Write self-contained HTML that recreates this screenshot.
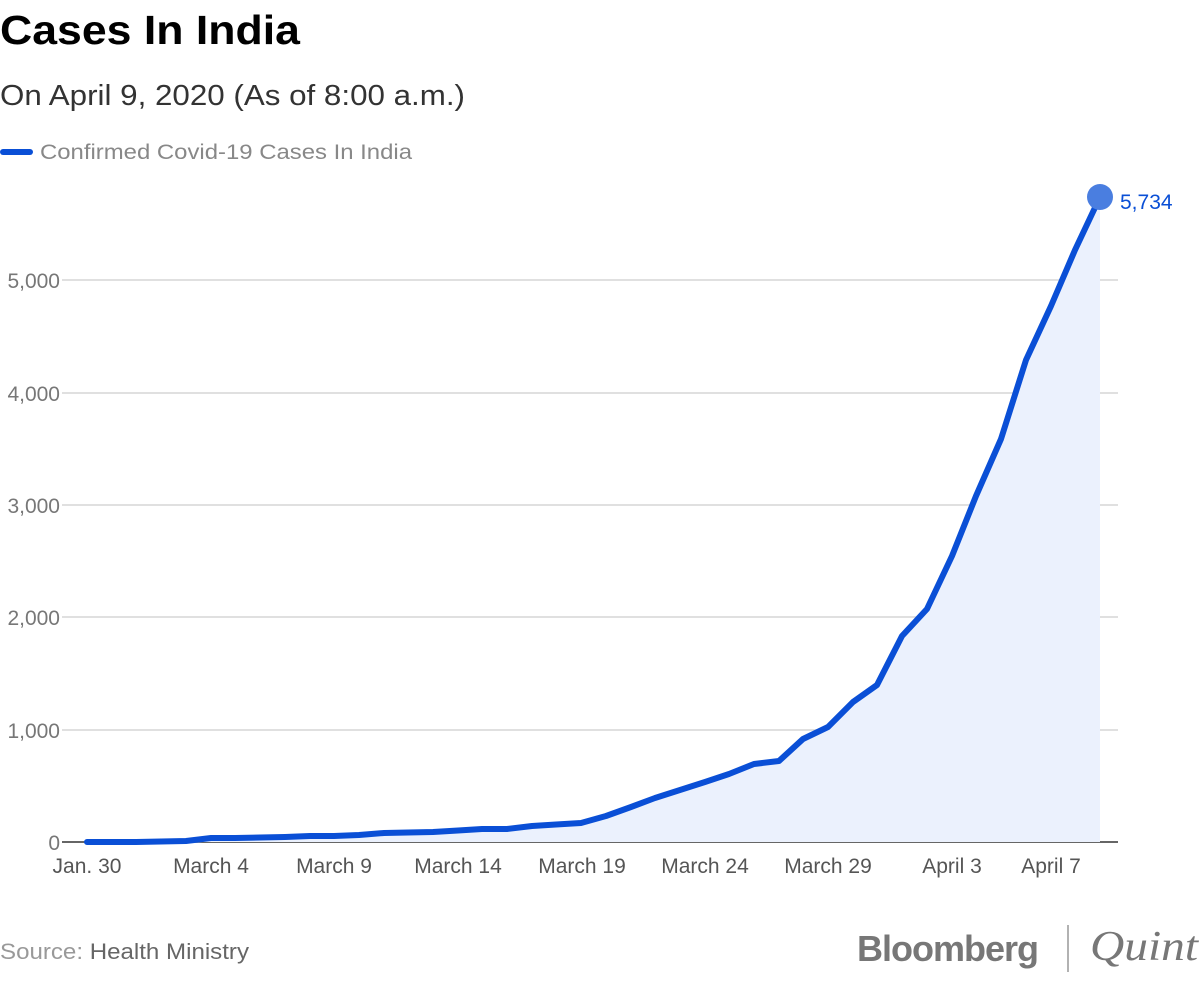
<!DOCTYPE html>
<html><head><meta charset="utf-8"><style>
body{margin:0;background:#fff;width:1200px;height:990px;overflow:hidden;font-family:"Liberation Sans",sans-serif}
</style></head><body>
<svg width="1200" height="990" xmlns="http://www.w3.org/2000/svg" font-family="Liberation Sans, sans-serif">
<text x="0" y="44" font-size="41" font-weight="bold" fill="#000" textLength="300" lengthAdjust="spacingAndGlyphs">Cases In India</text>
<text x="0" y="105" font-size="29" fill="#333" textLength="465" lengthAdjust="spacingAndGlyphs">On April 9, 2020 (As of 8:00 a.m.)</text>
<line x1="3" y1="152" x2="30" y2="152" stroke="#0a4fd6" stroke-width="6" stroke-linecap="round"/>
<text x="40" y="159" font-size="21" fill="#888" textLength="372" lengthAdjust="spacingAndGlyphs">Confirmed Covid-19 Cases In India</text>
<g stroke="#d6d6d6" stroke-width="1.5">
<line x1="62" y1="280" x2="1118" y2="280"/><line x1="62" y1="393" x2="1118" y2="393"/>
<line x1="62" y1="505" x2="1118" y2="505"/><line x1="62" y1="617" x2="1118" y2="617"/>
<line x1="62" y1="730" x2="1118" y2="730"/>
</g>
<line x1="62" y1="842" x2="1118" y2="842" stroke="#333" stroke-width="1.5"/>
<g font-size="21" fill="#777" text-anchor="end">
<text x="60" y="288">5,000</text><text x="60" y="401">4,000</text><text x="60" y="513">3,000</text>
<text x="60" y="625">2,000</text><text x="60" y="738">1,000</text><text x="60" y="850">0</text>
</g>
<g font-size="21" fill="#555" text-anchor="middle">
<text x="87" y="873">Jan. 30</text><text x="211" y="873">March 4</text><text x="334" y="873">March 9</text>
<text x="458" y="873">March 14</text><text x="582" y="873">March 19</text><text x="705" y="873">March 24</text>
<text x="828" y="873">March 29</text><text x="952" y="873">April 3</text><text x="1051" y="873">April 7</text>
</g>
<path d="M87,842 L112,842 136,842 161,841.5 186,841 211,838 235,838 260,837.5 285,837 310,836 334,836 359,835 384,833 408,832.5 433,832 458,830.5 482,829 507,829 532,826 556,824.5 581,823 606,816 631,807 655,798 680,790 705,782 729,774 754,764 779,761 803,739 828,727 853,702 877,685 902,636 927,609 952,556 976,496 1001,439 1026,360 1051,306 1075,250 1100,197 L1100,842 Z" fill="#ebf1fd"/>
<polyline fill="none" stroke="#0a4fd6" stroke-width="6" stroke-linejoin="round" stroke-linecap="round" points="87,842 112,842 136,842 161,841.5 186,841 211,838 235,838 260,837.5 285,837 310,836 334,836 359,835 384,833 408,832.5 433,832 458,830.5 482,829 507,829 532,826 556,824.5 581,823 606,816 631,807 655,798 680,790 705,782 729,774 754,764 779,761 803,739 828,727 853,702 877,685 902,636 927,609 952,556 976,496 1001,439 1026,360 1051,306 1075,250 1100,197"/>
<circle cx="1100" cy="197" r="13" fill="#4a7ee0"/>
<text x="1120" y="209" font-size="21" fill="#0a4fd6">5,734</text>
<text x="0" y="959" font-size="22" fill="#999" textLength="249" lengthAdjust="spacingAndGlyphs">Source: <tspan fill="#666">Health Ministry</tspan></text>
<text x="857" y="961" font-size="36" font-weight="bold" fill="#777" letter-spacing="-1">Bloomberg</text>
<line x1="1068" y1="925" x2="1068" y2="972" stroke="#999" stroke-width="1.5"/>
<text x="1090" y="960" font-size="42" font-style="italic" font-family="Liberation Serif, serif" fill="#777" textLength="108" lengthAdjust="spacingAndGlyphs">Quint</text>
</svg>
</body></html>
